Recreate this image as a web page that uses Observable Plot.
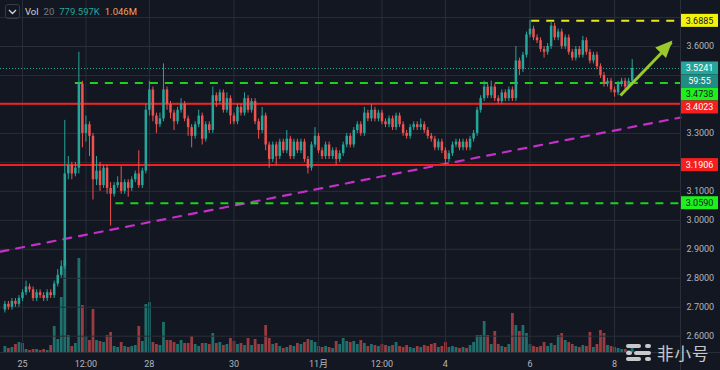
<!DOCTYPE html>
<html><head><meta charset="utf-8">
<script src="https://cdn.jsdelivr.net/npm/d3@7"></script>
<script src="https://cdn.jsdelivr.net/npm/@observablehq/plot@0.6"></script>
<style>
html,body{margin:0;padding:0;background:#131722;}
#wrap{position:relative;width:720px;height:370px;overflow:hidden;background:#131722;font-family:Roboto,"Noto Sans CJK SC",sans-serif;}
#wrap svg.plot-layer{position:absolute;left:0;top:0;}
#legend{position:absolute;left:5px;top:4px;display:flex;align-items:center;font-size:9.5px;white-space:nowrap;}
#legend .chev{width:15px;height:15px;border:1px solid #363a45;border-radius:3px;box-sizing:border-box;display:flex;align-items:center;justify-content:center;margin-right:5px;}
#legend span{margin-right:5px;}
#wm{position:absolute;left:625px;top:344px;display:flex;align-items:center;opacity:0.85;}
#wm .logo{position:relative;width:28px;height:17px;margin-right:4px;}
#wm .logo i{position:absolute;height:4px;border-radius:2px;background:#e8e8e8;}
#wm .txt{font-family:"Noto Sans CJK SC",sans-serif;font-size:16.5px;color:#e8e8e8;letter-spacing:1px;line-height:16px;height:16px;}
</style></head>
<body><div id="wrap">
<div id="legend"><div class="chev"><svg width="9" height="6"><polyline points="1,1 4.5,4.5 8,1" fill="none" stroke="#d1d4dc" stroke-width="1.3"/></svg></div><span style="color:#d1d4dc">Vol</span><span style="color:#787b86">20</span><span style="color:#26a69a">779.597K</span><span style="color:#f0a35c">1.046M</span></div>
</div>
<script>
// ---------------- data ----------------
const candleStart = "2021-10-24T14:00Z";   // 2-hour candles
const firstOpen = 2.69;
const closes = [
2.71,2.70,2.72,2.71,2.73,2.75,2.77,2.76,2.73,2.75,2.74,2.73,2.75,2.74,2.78,2.81,2.84,3.16,3.19,3.16,
3.18,3.47,3.30,3.33,3.29,3.14,3.17,3.12,3.18,3.11,3.09,3.12,3.13,3.10,3.13,3.11,3.14,3.16,3.12,3.17,
3.38,3.45,3.36,3.33,3.35,3.45,3.40,3.37,3.34,3.38,3.40,3.35,3.32,3.29,3.33,3.36,3.28,3.33,3.31,3.43,
3.41,3.44,3.38,3.42,3.36,3.34,3.39,3.37,3.42,3.38,3.41,3.34,3.31,3.36,3.26,3.21,3.26,3.22,3.27,3.24,
3.28,3.22,3.27,3.24,3.27,3.21,3.18,3.26,3.29,3.24,3.22,3.26,3.22,3.24,3.21,3.23,3.26,3.29,3.26,3.31,
3.33,3.30,3.37,3.35,3.38,3.35,3.37,3.34,3.33,3.35,3.32,3.36,3.33,3.30,3.29,3.32,3.33,3.32,3.33,3.31,
3.29,3.28,3.25,3.27,3.24,3.21,3.23,3.26,3.27,3.25,3.27,3.25,3.28,3.30,3.38,3.42,3.46,3.43,3.46,3.42,
3.41,3.44,3.42,3.45,3.42,3.55,3.52,3.57,3.64,3.66,3.63,3.62,3.59,3.58,3.60,3.67,3.63,3.65,3.60,3.63,
3.58,3.56,3.59,3.57,3.62,3.58,3.55,3.57,3.53,3.50,3.47,3.48,3.45,3.44,3.47,3.48,3.46,3.48,3.5241];
const highs = [
2.72,2.72,2.73,2.73,2.74,2.76,2.79,2.78,2.77,2.76,2.76,2.75,2.76,2.76,2.79,2.83,2.86,3.345,3.22,3.20,
3.20,3.58,3.48,3.36,3.34,3.30,3.22,3.20,3.19,3.19,3.13,3.13,3.15,3.185,3.14,3.14,3.15,3.17,3.24,3.18,
3.40,3.48,3.46,3.37,3.37,3.54,3.46,3.41,3.38,3.39,3.42,3.41,3.36,3.33,3.34,3.38,3.37,3.34,3.34,3.46,
3.44,3.45,3.45,3.44,3.43,3.37,3.40,3.40,3.44,3.43,3.42,3.42,3.35,3.39,3.37,3.27,3.27,3.27,3.28,3.28,
3.31,3.29,3.28,3.28,3.28,3.28,3.22,3.27,3.32,3.30,3.25,3.27,3.27,3.25,3.25,3.24,3.27,3.30,3.30,3.32,
3.34,3.34,3.39,3.38,3.40,3.39,3.38,3.38,3.35,3.36,3.36,3.37,3.37,3.34,3.31,3.33,3.34,3.34,3.35,3.34,
3.32,3.30,3.29,3.28,3.28,3.25,3.24,3.27,3.28,3.28,3.28,3.28,3.29,3.31,3.39,3.43,3.48,3.47,3.48,3.47,
3.43,3.45,3.45,3.46,3.46,3.60,3.56,3.58,3.65,3.69,3.67,3.64,3.63,3.60,3.61,3.685,3.68,3.66,3.66,3.64,
3.64,3.59,3.60,3.60,3.635,3.63,3.59,3.58,3.58,3.54,3.51,3.49,3.49,3.46,3.48,3.49,3.49,3.49,3.555];
const lows = [
2.68,2.69,2.69,2.70,2.70,2.72,2.74,2.75,2.72,2.72,2.73,2.72,2.72,2.73,2.73,2.77,2.80,2.83,3.14,3.14,
3.15,3.16,3.25,3.27,3.22,3.07,3.12,3.10,3.11,3.09,2.98,3.08,3.11,3.09,3.09,3.08,3.10,3.13,3.11,3.11,
3.16,3.36,3.34,3.30,3.32,3.34,3.38,3.35,3.31,3.33,3.37,3.34,3.29,3.25,3.28,3.32,3.26,3.27,3.30,3.30,
3.39,3.40,3.37,3.37,3.33,3.33,3.33,3.36,3.36,3.37,3.37,3.33,3.28,3.30,3.24,3.18,3.20,3.19,3.21,3.23,
3.23,3.21,3.21,3.23,3.23,3.20,3.16,3.17,3.25,3.23,3.21,3.21,3.21,3.21,3.19,3.20,3.22,3.25,3.25,3.25,
3.30,3.29,3.29,3.34,3.34,3.34,3.34,3.33,3.32,3.32,3.31,3.31,3.32,3.29,3.28,3.28,3.31,3.31,3.31,3.30,
3.28,3.27,3.24,3.24,3.23,3.19,3.20,3.22,3.25,3.24,3.24,3.24,3.24,3.27,3.29,3.37,3.41,3.42,3.42,3.41,
3.40,3.40,3.41,3.41,3.41,3.41,3.50,3.51,3.56,3.63,3.62,3.61,3.58,3.56,3.57,3.59,3.62,3.62,3.59,3.59,
3.57,3.55,3.55,3.56,3.56,3.57,3.54,3.54,3.52,3.49,3.46,3.46,3.44,3.425,3.43,3.46,3.45,3.45,3.47];
const volumesK = [
1200,800,1000,1600,2000,1800,600,400,600,600,400,600,400,1400,5200,2600,11000,18400,3400,1200,
1800,18800,9400,3200,2400,8600,2400,2200,2000,3400,4000,1200,1000,2000,1200,1000,1200,1400,5200,2200,
9600,10000,2000,1600,1400,6000,2400,2400,2000,1600,2400,1800,1800,3200,1600,1200,1800,1800,1600,3800,
1800,2000,1400,1600,2800,2200,1600,1800,1400,2800,1400,2600,1600,1600,5400,2800,1600,1800,1200,800,
1000,1400,1200,1800,1600,2000,2600,2400,2000,1200,1000,1200,1000,800,2200,1600,2800,2200,2000,2200,
1600,2400,1800,1200,1600,1400,1200,1600,1400,1200,1400,2000,1200,1000,1400,1000,800,1200,1000,1400,
1200,1600,1800,1000,1200,2000,1000,1200,1000,800,1000,800,1400,2000,3400,3400,6200,3400,1600,4200,
1600,1200,1000,1600,7800,5400,4200,5400,3800,1600,1200,1000,1200,2000,1200,1800,1400,3400,3800,2400,
2000,1600,1200,1000,1400,1200,4000,1000,1600,4400,3800,1400,1200,1000,800,600,600,400,779.597];
const volMaxK = 70400;

const xStart = "2021-10-24T11:31Z", xEnd = "2021-11-09T13:25Z";
const priceMin = 2.5437, priceMax = 3.7588;
const xTickDates = ["2021-10-25T00:00Z","2021-10-26T12:00Z","2021-10-28T00:00Z","2021-10-30T00:00Z","2021-11-01T00:00Z","2021-11-02T12:00Z","2021-11-04T00:00Z","2021-11-06T00:00Z","2021-11-08T00:00Z"];
const xTickLabels = ["25","12:00","28","30","11月","12:00","4","6","8"];
const gridPrices = [2.6,2.7,2.8,2.9,3.0,3.1,3.2,3.3,3.4,3.5,3.6,3.7];
const yTickValues = [2.6,2.7,2.8,2.9,3.0,3.1,3.3,3.6];

const redLevels = [3.4023, 3.1906];
const greenLevels = [3.4738, 3.0590];
const greenStarts = ["2021-10-26T06:00Z", "2021-10-27T05:00Z"];
const yellowLevel = 3.6885, yellowStart = "2021-11-06T01:00Z";
const lastPrice = 3.5241, countdown = "59:55";
const trendTimes = ["2021-10-24T11:31Z", "2021-11-09T13:25Z"];
const trendPrices = [2.892, 3.355];
const arrowFrom = {t: "2021-11-08T03:20Z", p: 3.431};
const arrowTo = {t: "2021-11-09T08:20Z", p: 3.614};

// ---------------- build ----------------
const UP = "#26a69a", DOWN = "#ef5350";
const t0 = new Date(candleStart);
const candles = closes.map((c, i) => ({
  t: d3.utcHour.offset(t0, 2 * i),
  o: i === 0 ? firstOpen : closes[i - 1],
  c, h: highs[i], l: lows[i], v: volumesK[i]
}));
candles.forEach(d => d.col = d.c >= d.o ? UP : DOWN);

const W = 720, H = 370, MR = 40, MB = 18;
const xDomain = [new Date(xStart), new Date(xEnd)];
const tickDates = xTickDates.map(s => new Date(s));
const labelMap = new Map(tickDates.map((d, i) => [+d, xTickLabels[i]]));
const font = "Roboto, 'Noto Sans CJK SC', sans-serif";
const ARROW = "#9bc82a";

const vol = Plot.plot({
  width: W, height: H, marginLeft: 0, marginRight: MR, marginTop: 0, marginBottom: MB,
  style: {background: "transparent"},
  x: {type: "utc", domain: xDomain, axis: null},
  y: {domain: [0, volMaxK], axis: null},
  marks: [
    Plot.ruleX(candles, {x: "t", y1: 0, y2: "v", stroke: "col", strokeWidth: 2.8, strokeOpacity: 0.62})
  ]
});

const arrowRow = [{x1: new Date(arrowFrom.t), y1: arrowFrom.p, x2: new Date(arrowTo.t), y2: arrowTo.p}];
const price = Plot.plot({
  width: W, height: H, marginLeft: 0, marginRight: MR, marginTop: 0, marginBottom: MB,
  style: {background: "transparent", color: "#b2b5be", fontSize: "9px", fontFamily: font, overflow: "visible"},
  x: {type: "utc", domain: xDomain, ticks: tickDates, tickFormat: d => labelMap.get(+d), tickSize: 0, tickPadding: 8, label: null},
  y: {domain: [priceMin, priceMax], axis: "right", ticks: yTickValues, tickFormat: d => d.toFixed(4), tickSize: 0, tickPadding: 6, label: null},
  marks: [
    Plot.ruleY(gridPrices, {stroke: "#2a2e39"}),
    Plot.ruleX(tickDates, {stroke: "#2a2e39"}),
    Plot.ruleY([lastPrice], {stroke: UP, strokeWidth: 1, strokeDasharray: "1,2"}),
    Plot.line(trendTimes.map((t, i) => ({t: new Date(t), p: trendPrices[i]})), {x: "t", y: "p", stroke: "#c42fc8", strokeWidth: 2.2, strokeDasharray: "8,8"}),
    Plot.ruleY(redLevels, {stroke: "#f51f1f", strokeWidth: 2}),
    Plot.ruleY(greenLevels.map((p, i) => ({p, s: new Date(greenStarts[i]), e: xDomain[1]})), {y: "p", x1: "s", x2: "e", stroke: "#1fd11f", strokeWidth: 2, strokeDasharray: "8,7"}),
    Plot.ruleY([{p: yellowLevel, s: new Date(yellowStart), e: xDomain[1]}], {y: "p", x1: "s", x2: "e", stroke: "#e8e81a", strokeWidth: 2, strokeDasharray: "8,7"}),
    Plot.ruleX(candles, {x: "t", y1: "l", y2: "h", stroke: "col", strokeWidth: 1}),
    Plot.ruleX(candles, {x: "t", y1: "o", y2: "c", stroke: "col", strokeWidth: 2.5}),
    Plot.link(arrowRow, {x1: "x1", y1: "y1", x2: "x2", y2: "y2", stroke: ARROW, strokeWidth: 3})
  ]
});

vol.classList.add("plot-layer");
price.classList.add("plot-layer");
const wrap = document.getElementById("wrap");
wrap.insertBefore(vol, wrap.firstChild);
wrap.insertBefore(price, document.getElementById("legend"));

// frame lines, arrow head and price tags, positioned via Plot's scales
const ys = price.scale("y"), xs = price.scale("x");
const yPix = ys.apply ? (v => ys.apply(v)) : d3.scaleLinear(ys.domain, ys.range);
const xPix = xs.apply ? (v => xs.apply(v)) : d3.scaleUtc(xs.domain, xs.range);
const xRight = Math.max(...xs.range), yBottom = Math.max(...ys.range);
const svg = d3.select(price);
svg.append("line").attr("x1", xRight + 0.5).attr("x2", xRight + 0.5).attr("y1", 0).attr("y2", H).attr("stroke", "#2a2e39");
svg.append("line").attr("x1", 0).attr("x2", W).attr("y1", yBottom + 0.5).attr("y2", yBottom + 0.5).attr("stroke", "#2a2e39");

{
  const a = arrowRow[0];
  const px1 = xPix(a.x1), py1 = yPix(a.y1), px2 = xPix(a.x2), py2 = yPix(a.y2);
  const len = Math.hypot(px2 - px1, py2 - py1), ux = (px2 - px1) / len, uy = (py2 - py1) / len;
  const L = 15, Wd = 7.5, bx = px2 - ux * L, by = py2 - uy * L, nx = -uy, ny = ux;
  svg.append("polygon").attr("fill", ARROW)
    .attr("points", [[px2 + ux * 2, py2 + uy * 2], [bx + nx * Wd, by + ny * Wd], [bx - nx * Wd, by - ny * Wd]].map(p => p.join(",")).join(" "));
}

const tags = [
  {p: yellowLevel, lines: [{t: yellowLevel.toFixed(4), bg: "#f2f20f", fg: "#131722"}]},
  {p: lastPrice, lines: [{t: lastPrice.toFixed(4), bg: "#26a69a", fg: "#ffffff"}, {t: countdown, bg: "#1f8d83", fg: "#ffffff"}]},
  {p: greenLevels[0], lines: [{t: greenLevels[0].toFixed(4), bg: "#1ef01e", fg: "#131722"}]},
  {p: redLevels[0], lines: [{t: redLevels[0].toFixed(4), bg: "#f51f1f", fg: "#ffffff"}]},
  {p: redLevels[1], lines: [{t: redLevels[1].toFixed(4), bg: "#f51f1f", fg: "#ffffff"}]},
  {p: greenLevels[1], lines: [{t: greenLevels[1].toFixed(4), bg: "#1ef01e", fg: "#131722"}]}
];
const TH = 13;
let floor = -Infinity;
tags.sort((a, b) => b.p - a.p).forEach(tag => {
  let top = Math.max(yPix(tag.p) - TH / 2, floor);
  tag.lines.forEach(l => {
    svg.append("rect").attr("x", xRight + 1).attr("y", top).attr("width", 37).attr("height", TH).attr("fill", l.bg);
    svg.append("text").attr("x", xRight + 19.5).attr("y", top + TH / 2).attr("dy", "0.35em")
      .attr("text-anchor", "middle").attr("fill", l.fg).attr("font-size", 9).attr("font-family", font).text(l.t);
    top += TH;
  });
  floor = top;
});

const wm = document.createElement("div");
wm.id = "wm";
wm.innerHTML = '<div class="logo"><i style="left:1px;top:0px;width:15px"></i><i style="left:20px;top:0px;width:6px"></i><i style="left:1px;top:6.5px;width:6px"></i><i style="left:9px;top:6.5px;width:17px"></i><i style="left:1px;top:13px;width:15px"></i><i style="left:20px;top:13px;width:6px"></i></div><div class="txt">非小号</div>';
wrap.appendChild(wm);
</script>
</body></html>
